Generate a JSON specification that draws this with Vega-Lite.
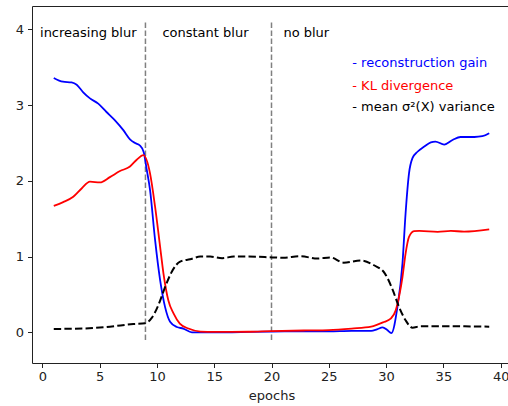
{
  "$schema": "https://vega.github.io/schema/vega-lite/v6.json",
  "autosize": "none",
  "width": 479,
  "height": 357,
  "padding": {"left": 32, "top": 6, "right": 0, "bottom": 43},
  "background": "white",
  "config": {
    "font": "DejaVu Sans",
    "view": {"stroke": "#222", "strokeWidth": 1},
    "axis": {
      "grid": false, "domain": false, "tickColor": "#222", "tickSize": 4.5, "tickWidth": 1,
      "labelFont": "DejaVu Sans", "labelFontSize": 13, "labelColor": "#222",
      "titleFont": "DejaVu Sans", "titleFontSize": 13, "titleFontWeight": "normal", "titleColor": "#222"
    }
  },
  "datasets": {
    "curves": [
      {"epoch": 1, "value": 3.36, "series": "recon"},
      {"epoch": 1.8, "value": 3.31, "series": "recon"},
      {"epoch": 2.55, "value": 3.3, "series": "recon"},
      {"epoch": 3.0, "value": 3.27, "series": "recon"},
      {"epoch": 3.57, "value": 3.17, "series": "recon"},
      {"epoch": 4.16, "value": 3.09, "series": "recon"},
      {"epoch": 4.88, "value": 3.02, "series": "recon"},
      {"epoch": 5.6, "value": 2.91, "series": "recon"},
      {"epoch": 6.34, "value": 2.8, "series": "recon"},
      {"epoch": 7.07, "value": 2.67, "series": "recon"},
      {"epoch": 7.65, "value": 2.55, "series": "recon"},
      {"epoch": 8.1, "value": 2.5, "series": "recon"},
      {"epoch": 8.5, "value": 2.47, "series": "recon"},
      {"epoch": 8.85, "value": 2.38, "series": "recon"},
      {"epoch": 9.1, "value": 2.16, "series": "recon"},
      {"epoch": 9.4, "value": 1.88, "series": "recon"},
      {"epoch": 9.84, "value": 1.22, "series": "recon"},
      {"epoch": 10.28, "value": 0.69, "series": "recon"},
      {"epoch": 10.72, "value": 0.33, "series": "recon"},
      {"epoch": 11.15, "value": 0.14, "series": "recon"},
      {"epoch": 11.74, "value": 0.07, "series": "recon"},
      {"epoch": 12.3, "value": 0.05, "series": "recon"},
      {"epoch": 13.05, "value": 0.0, "series": "recon"},
      {"epoch": 14, "value": 0.0, "series": "recon"},
      {"epoch": 16, "value": 0.0, "series": "recon"},
      {"epoch": 18, "value": 0.005, "series": "recon"},
      {"epoch": 20, "value": 0.01, "series": "recon"},
      {"epoch": 22, "value": 0.012, "series": "recon"},
      {"epoch": 25, "value": 0.013, "series": "recon"},
      {"epoch": 27, "value": 0.02, "series": "recon"},
      {"epoch": 28.7, "value": 0.02, "series": "recon"},
      {"epoch": 29.2, "value": 0.04, "series": "recon"},
      {"epoch": 29.7, "value": 0.066, "series": "recon"},
      {"epoch": 30.1, "value": 0.03, "series": "recon"},
      {"epoch": 30.46, "value": -0.01, "series": "recon"},
      {"epoch": 30.99, "value": 0.335, "series": "recon"},
      {"epoch": 31.43, "value": 0.91, "series": "recon"},
      {"epoch": 31.7, "value": 1.57, "series": "recon"},
      {"epoch": 32.0, "value": 2.1, "series": "recon"},
      {"epoch": 32.3, "value": 2.3, "series": "recon"},
      {"epoch": 32.74, "value": 2.385, "series": "recon"},
      {"epoch": 33.3, "value": 2.45, "series": "recon"},
      {"epoch": 33.9, "value": 2.51, "series": "recon"},
      {"epoch": 34.3, "value": 2.52, "series": "recon"},
      {"epoch": 35.07, "value": 2.48, "series": "recon"},
      {"epoch": 35.8, "value": 2.54, "series": "recon"},
      {"epoch": 36.5, "value": 2.58, "series": "recon"},
      {"epoch": 37.7, "value": 2.58, "series": "recon"},
      {"epoch": 38.4, "value": 2.59, "series": "recon"},
      {"epoch": 39, "value": 2.63, "series": "recon"},

      {"epoch": 1, "value": 1.67, "series": "kl"},
      {"epoch": 1.82, "value": 1.72, "series": "kl"},
      {"epoch": 2.7, "value": 1.79, "series": "kl"},
      {"epoch": 3.43, "value": 1.9, "series": "kl"},
      {"epoch": 4.16, "value": 1.99, "series": "kl"},
      {"epoch": 5.03, "value": 1.98, "series": "kl"},
      {"epoch": 5.9, "value": 2.05, "series": "kl"},
      {"epoch": 6.78, "value": 2.13, "series": "kl"},
      {"epoch": 7.65, "value": 2.19, "series": "kl"},
      {"epoch": 8.24, "value": 2.28, "series": "kl"},
      {"epoch": 8.82, "value": 2.34, "series": "kl"},
      {"epoch": 9.4, "value": 2.1, "series": "kl"},
      {"epoch": 9.84, "value": 1.66, "series": "kl"},
      {"epoch": 10.28, "value": 1.13, "series": "kl"},
      {"epoch": 10.57, "value": 0.78, "series": "kl"},
      {"epoch": 11.0, "value": 0.42, "series": "kl"},
      {"epoch": 11.45, "value": 0.25, "series": "kl"},
      {"epoch": 12.0, "value": 0.115, "series": "kl"},
      {"epoch": 12.75, "value": 0.05, "series": "kl"},
      {"epoch": 13.8, "value": 0.01, "series": "kl"},
      {"epoch": 15, "value": 0.005, "series": "kl"},
      {"epoch": 18, "value": 0.008, "series": "kl"},
      {"epoch": 20, "value": 0.017, "series": "kl"},
      {"epoch": 23, "value": 0.025, "series": "kl"},
      {"epoch": 25, "value": 0.03, "series": "kl"},
      {"epoch": 27, "value": 0.05, "series": "kl"},
      {"epoch": 28.7, "value": 0.075, "series": "kl"},
      {"epoch": 29.8, "value": 0.136, "series": "kl"},
      {"epoch": 30.4, "value": 0.18, "series": "kl"},
      {"epoch": 30.84, "value": 0.29, "series": "kl"},
      {"epoch": 31.13, "value": 0.47, "series": "kl"},
      {"epoch": 31.43, "value": 0.73, "series": "kl"},
      {"epoch": 31.7, "value": 1.04, "series": "kl"},
      {"epoch": 32.0, "value": 1.26, "series": "kl"},
      {"epoch": 32.44, "value": 1.336, "series": "kl"},
      {"epoch": 32.9, "value": 1.34, "series": "kl"},
      {"epoch": 34.5, "value": 1.327, "series": "kl"},
      {"epoch": 35.65, "value": 1.34, "series": "kl"},
      {"epoch": 36.8, "value": 1.33, "series": "kl"},
      {"epoch": 39, "value": 1.36, "series": "kl"},

      {"epoch": 1, "value": 0.045, "series": "var"},
      {"epoch": 3.57, "value": 0.05, "series": "var"},
      {"epoch": 5.9, "value": 0.075, "series": "var"},
      {"epoch": 7.94, "value": 0.11, "series": "var"},
      {"epoch": 8.97, "value": 0.12, "series": "var"},
      {"epoch": 9.55, "value": 0.19, "series": "var"},
      {"epoch": 10.13, "value": 0.36, "series": "var"},
      {"epoch": 10.72, "value": 0.6, "series": "var"},
      {"epoch": 11.3, "value": 0.8, "series": "var"},
      {"epoch": 12.03, "value": 0.935, "series": "var"},
      {"epoch": 12.9, "value": 0.965, "series": "var"},
      {"epoch": 13.78, "value": 1.0, "series": "var"},
      {"epoch": 14.65, "value": 1.0, "series": "var"},
      {"epoch": 15.7, "value": 0.98, "series": "var"},
      {"epoch": 16.7, "value": 1.0, "series": "var"},
      {"epoch": 18, "value": 1.0, "series": "var"},
      {"epoch": 20.05, "value": 0.99, "series": "var"},
      {"epoch": 21, "value": 0.985, "series": "var"},
      {"epoch": 22.5, "value": 1.005, "series": "var"},
      {"epoch": 24, "value": 0.975, "series": "var"},
      {"epoch": 25.15, "value": 0.99, "series": "var"},
      {"epoch": 26.3, "value": 0.92, "series": "var"},
      {"epoch": 27.8, "value": 0.95, "series": "var"},
      {"epoch": 28.94, "value": 0.886, "series": "var"},
      {"epoch": 29.9, "value": 0.776, "series": "var"},
      {"epoch": 30.55, "value": 0.57, "series": "var"},
      {"epoch": 31.13, "value": 0.335, "series": "var"},
      {"epoch": 31.7, "value": 0.16, "series": "var"},
      {"epoch": 32.3, "value": 0.062, "series": "var"},
      {"epoch": 33.0, "value": 0.08, "series": "var"},
      {"epoch": 36, "value": 0.08, "series": "var"},
      {"epoch": 39, "value": 0.075, "series": "var"}
    ],
    "vlines": [
      {"epoch": 9, "low": -0.1, "high": 4.1},
      {"epoch": 20, "low": -0.1, "high": 4.1}
    ],
    "phases": [
      {"epoch": -0.2, "value": 3.96, "label": "increasing blur"},
      {"epoch": 10.48, "value": 3.96, "label": "constant blur"},
      {"epoch": 21.04, "value": 3.96, "label": "no blur"}
    ],
    "legendtext": [
      {"epoch": 27.05, "value": 3.56, "series": "recon", "label": "- reconstruction gain"},
      {"epoch": 27.05, "value": 3.26, "series": "kl", "label": "- KL divergence"},
      {"epoch": 27.05, "value": 2.97, "series": "var", "label": "- mean σ²(X) variance"}
    ]
  },
  "encoding": {
    "x": {"field": "epoch", "type": "quantitative", "scale": {"domain": [-0.9, 40.9], "nice": false, "zero": false},
          "axis": {"values": [0, 5, 10, 15, 20, 25, 30, 35, 40], "title": "epochs", "labelPadding": 3, "titlePadding": 6}},
    "y": {"field": "value", "type": "quantitative", "scale": {"domain": [-0.405, 4.31], "nice": false, "zero": false},
          "axis": {"values": [0, 1, 2, 3, 4], "title": null, "labelPadding": 4}}
  },
  "layer": [
    {
      "data": {"name": "vlines"},
      "mark": {"type": "rule", "color": "#808080", "strokeWidth": 1.5, "strokeDash": [5.5, 2.5]},
      "encoding": {"y": {"field": "low", "type": "quantitative"}, "y2": {"field": "high"}}
    },
    {
      "data": {"name": "curves"},
      "transform": [{"filter": "datum.series == 'recon'"}],
      "mark": {"type": "line", "interpolate": "monotone", "strokeWidth": 1.8, "color": "#0000ff"},
      "encoding": {}
    },
    {
      "data": {"name": "curves"},
      "transform": [{"filter": "datum.series == 'kl'"}],
      "mark": {"type": "line", "interpolate": "monotone", "strokeWidth": 1.8, "color": "#ff0000"},
      "encoding": {}
    },
    {
      "data": {"name": "curves"},
      "transform": [{"filter": "datum.series == 'var'"}],
      "mark": {"type": "line", "interpolate": "monotone", "strokeWidth": 2, "color": "#000000", "strokeDash": [7.4, 3.2]},
      "encoding": {}
    },
    {
      "data": {"name": "phases"},
      "mark": {"type": "text", "align": "left", "baseline": "middle", "fontSize": 13, "color": "#000000"},
      "encoding": {"text": {"field": "label"}}
    },
    {
      "data": {"name": "legendtext"},
      "mark": {"type": "text", "align": "left", "baseline": "middle", "fontSize": 13},
      "encoding": {
        "text": {"field": "label"},
        "color": {"field": "series", "type": "nominal", "scale": {"domain": ["recon", "kl", "var"], "range": ["#0000ff", "#ff0000", "#000000"]}, "legend": null}
      }
    }
  ]
}
